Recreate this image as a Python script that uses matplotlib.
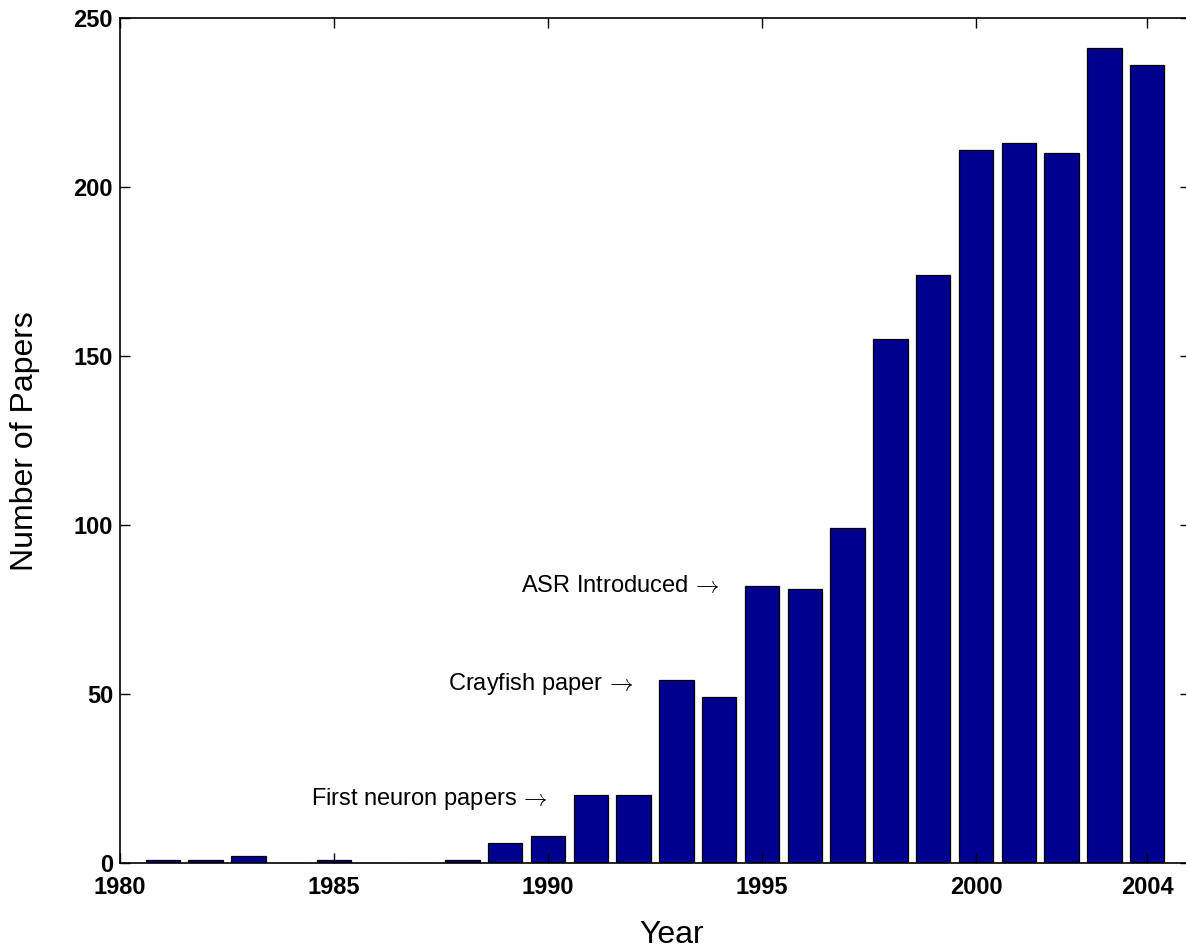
import matplotlib
matplotlib.use("Agg")
import matplotlib.pyplot as plt

# papers per year
years = [1981, 1982, 1983, 1984, 1985, 1986, 1987, 1988, 1989, 1990, 1991, 1992,
         1993, 1994, 1995, 1996, 1997, 1998, 1999, 2000, 2001, 2002, 2003, 2004]
papers = [1, 1, 2, 0, 1, 0, 0, 1, 6, 8, 20, 20,
          54, 49, 82, 81, 99, 155, 174, 211, 213, 210, 241, 236]

x_ticks = [1980, 1985, 1990, 1995, 2000, 2004]
y_ticks = [0, 50, 100, 150, 200, 250]

# milestone notes: (text, x where the text ends, y)
notes = [
    ("First neuron papers", 1990, 19),
    ("Crayfish paper", 1992, 53),
    ("ASR Introduced", 1994, 82),
]

plt.rcParams['font.family'] = ['Liberation Sans', 'DejaVu Sans']
plt.rcParams['mathtext.fontset'] = 'cm'

W, H = 1186, 949
fig = plt.figure(figsize=(W / 100, H / 100), dpi=100)
ax = fig.add_axes([120 / W, 1 - 863 / H, 1070 / W, 845 / H])

ax.bar(years, papers, width=0.8, color='#00008F', edgecolor='black', linewidth=0.9)

ax.set_xlim(1980, 2005)
ax.set_ylim(0, 250)
ax.set_xticks(x_ticks)
ax.set_yticks(y_ticks)
ax.tick_params(direction='in', length=7, width=1, top=True, right=True,
               labelsize=17)
ax.tick_params(axis='x', pad=9.5)
ax.tick_params(axis='y', pad=5)
for lbl in ax.get_xticklabels() + ax.get_yticklabels():
    lbl.set_fontweight('bold')
for sp in ax.spines.values():
    sp.set_linewidth(1.2)

for text, xe, ye in notes:
    ax.text(xe, ye, text + r'$\,\rightarrow$', ha='right', va='center', fontsize=17)

fig.text(671.5 / W, 1 - 943 / H, 'Year', ha='center', va='baseline', fontsize=23)
fig.text(25 / W, 1 - 441 / H, 'Number of Papers', ha='center', va='center',
         rotation=90, fontsize=23)

fig.savefig('out.png', dpi=100)
